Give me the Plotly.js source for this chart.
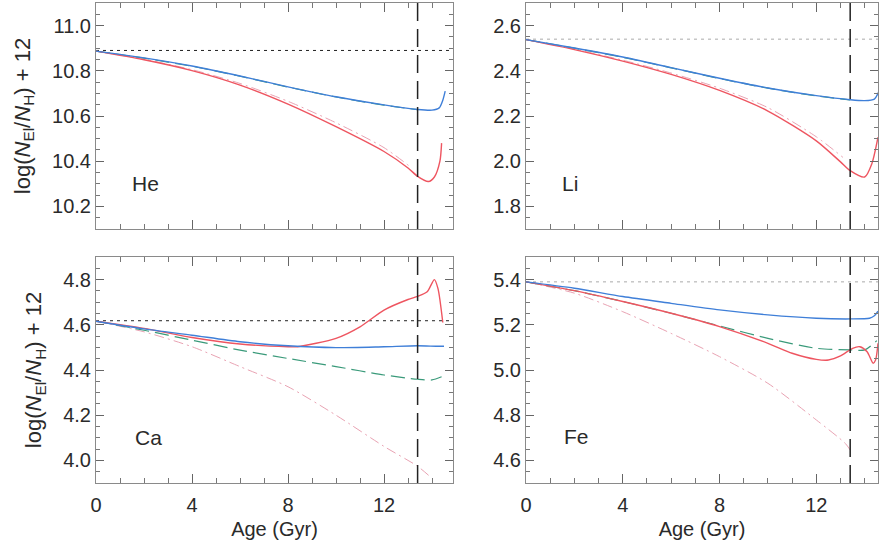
<!DOCTYPE html>
<html><head><meta charset="utf-8">
<script src="https://cdn.plot.ly/plotly-3.0.1.min.js"></script>
<style>html,body{margin:0;padding:0;background:#fff}#chart{width:879px;height:544px}</style>
</head><body><div id="chart"></div>
<script>
// ---- data (age in Gyr, log(N_El/N_H)+12) ----
const turnoffAge = 13.4;
const initialHe = 10.89, initialLi = 2.54, initialCa = 4.618, initialFe = 5.39;

// He
const heBlueX = [0, 2, 4, 6, 8, 10, 12, 13.4, 14.0, 14.3, 14.45, 14.55];
const heBlueY = [10.887, 10.857, 10.821, 10.777, 10.729, 10.685, 10.649, 10.629, 10.626, 10.636, 10.67, 10.71];
const heGreenX = [0, 2, 4, 6, 8, 10, 12, 13.4];
const heGreenY = [10.887, 10.856, 10.82, 10.776, 10.728, 10.684, 10.648, 10.628];
const heRedX = [0, 2, 4, 6, 8, 10, 12, 13.0, 13.4, 13.85, 14.1, 14.33, 14.4];
const heRedY = [10.887, 10.849, 10.801, 10.737, 10.653, 10.553, 10.443, 10.37, 10.333, 10.31, 10.33, 10.40, 10.48];
const hePinkX = [0, 2, 4, 6, 8, 10, 12, 13.1];
const hePinkY = [10.887, 10.851, 10.805, 10.744, 10.665, 10.57, 10.46, 10.375];

// Li
const liBlueX = [0, 2, 4, 6, 8, 10, 12, 13.4, 14.0, 14.4, 14.55, 14.7];
const liBlueY = [2.538, 2.501, 2.461, 2.414, 2.367, 2.324, 2.29, 2.272, 2.268, 2.275, 2.30, 2.35];
const liGreenX = [0, 2, 4, 6, 8, 10, 12, 13.4];
const liGreenY = [2.538, 2.5, 2.46, 2.413, 2.366, 2.323, 2.289, 2.271];
const liRedX = [0, 2, 4, 6, 8, 10, 12, 13.0, 13.4, 14.0, 14.3, 14.55];
const liRedY = [2.538, 2.494, 2.443, 2.384, 2.313, 2.222, 2.09, 1.997, 1.958, 1.93, 1.99, 2.106];
const liPinkX = [0, 2, 4, 6, 8, 10, 12, 13.1];
const liPinkY = [2.538, 2.496, 2.447, 2.39, 2.323, 2.237, 2.108, 2.017];

// Ca
const caBlueX = [0, 2, 4, 6, 8, 10, 12, 13.4, 14.2, 14.5];
const caBlueY = [4.616, 4.582, 4.554, 4.525, 4.507, 4.499, 4.503, 4.507, 4.505, 4.505];
const caGreenX = [0, 2, 4, 6, 8, 10, 12, 13.4, 14.0, 14.4];
const caGreenY = [4.616, 4.576, 4.532, 4.488, 4.451, 4.415, 4.378, 4.359, 4.356, 4.37];
const caRedX = [0, 2, 4, 6, 8, 8.4, 10, 11, 12, 13, 13.4, 13.8, 14.1, 14.25, 14.45];
const caRedY = [4.616, 4.584, 4.544, 4.515, 4.503, 4.503, 4.54, 4.591, 4.665, 4.712, 4.726, 4.746, 4.80, 4.76, 4.61];
const caPinkX = [0, 2, 4, 6, 8, 10, 12, 13.4, 13.9];
const caPinkY = [4.616, 4.569, 4.503, 4.415, 4.326, 4.20, 4.062, 3.974, 3.93];

// Fe
const feBlueX = [0, 2, 4, 6, 8, 10, 12, 13.4, 14.2, 14.4, 14.55];
const feBlueY = [5.39, 5.362, 5.325, 5.295, 5.266, 5.244, 5.229, 5.226, 5.229, 5.24, 5.26];
const feGreenX = [0, 2, 4, 6, 8, 10, 12, 13.4, 14.0, 14.5];
const feGreenY = [5.39, 5.351, 5.303, 5.251, 5.195, 5.14, 5.096, 5.089, 5.089, 5.13];
const feRedX = [0, 2, 4, 6, 8, 10, 11, 12, 12.5, 13, 13.5, 13.8, 14.1, 14.35, 14.45, 14.55];
const feRedY = [5.39, 5.351, 5.303, 5.251, 5.192, 5.118, 5.074, 5.047, 5.044, 5.062, 5.096, 5.103, 5.081, 5.03, 5.044, 5.118];
const fePinkX = [0, 2, 4, 6, 8, 10, 12, 13.2, 13.4];
const fePinkY = [5.39, 5.34, 5.258, 5.162, 5.059, 4.941, 4.779, 4.675, 4.646];

const elements = ["He", "Li", "Ca", "Fe"];
const xTickVals = [0, 4, 8, 12];
const xTickText = ["0", "4", "8", "12"];

// ---- styling ----
const BLUE = "#3f7fd8", GREEN = "#3a9a7a", RED = "#ee5560", PINK = "#e9a3b3";
const FONT = "Liberation Sans, Arial, sans-serif", TXT = "#2a2a2a";
function line(x, y, xa, ya, color, dash, width) {
  return {x: x, y: y, xaxis: xa, yaxis: ya, type: "scatter", mode: "lines",
          line: {color: color, dash: dash, width: width, shape: "spline", smoothing: 0.7},
          hoverinfo: "skip", showlegend: false};
}
const panels = [
  {xa: "x", ya: "y", b: [heBlueX, heBlueY], g: [heGreenX, heGreenY], r: [heRedX, heRedY], p: [hePinkX, hePinkY]},
  {xa: "x2", ya: "y2", b: [liBlueX, liBlueY], g: [liGreenX, liGreenY], r: [liRedX, liRedY], p: [liPinkX, liPinkY]},
  {xa: "x3", ya: "y3", b: [caBlueX, caBlueY], g: [caGreenX, caGreenY], r: [caRedX, caRedY], p: [caPinkX, caPinkY]},
  {xa: "x4", ya: "y4", b: [feBlueX, feBlueY], g: [feGreenX, feGreenY], r: [feRedX, feRedY], p: [fePinkX, fePinkY]}
];
const traces = [];
panels.forEach(function (P) {
  traces.push(line(P.p[0], P.p[1], P.xa, P.ya, PINK, "10px,4px,2px,4px", 1));
  traces.push(line(P.g[0], P.g[1], P.xa, P.ya, GREEN, "14px,6px", 1.2));
  traces.push(line(P.r[0], P.r[1], P.xa, P.ya, RED, "solid", 1.4));
  traces.push(line(P.b[0], P.b[1], P.xa, P.ya, BLUE, "solid", 1.4));
});

const W = 879, H = 544;
const colDom = [[96 / W, 453 / W], [526 / W, 878 / W]];
const rowDom = [[1 - 229 / H, 1 - 3 / H], [1 - 483 / H, 1 - 257 / H]];
const xRanges = [[0, 14.875], [0, 14.55]];
const yRanges = [[10.1, 11.1], [1.7, 2.7], [3.9, 4.9], [4.5, 5.5]];
const tickFont = {family: FONT, size: 20, color: TXT};

function xaxis(col, showLabels, anchor) {
  const ax = {domain: colDom[col], range: xRanges[col], anchor: anchor,
    showgrid: false, zeroline: false, showline: true, linecolor: "#8a8a8a", linewidth: 1, mirror: "ticks",
    ticks: "inside", ticklen: 9, tickcolor: "#666", tickwidth: 1,
    tickvals: xTickVals, ticktext: xTickText, showticklabels: showLabels, tickfont: tickFont,
    ticklabelstandoff: 4,
    minor: {dtick: 1, ticks: "inside", ticklen: 5, tickcolor: "#777"}};
  if (showLabels) ax.title = {text: "Age (Gyr)", font: {family: FONT, size: 20, color: TXT}, standoff: 6};
  return ax;
}
function yaxis(i, col, row, anchor) {
  const ax = {domain: rowDom[row], range: yRanges[i], anchor: anchor,
    showgrid: false, zeroline: false, showline: true, linecolor: "#8a8a8a", linewidth: 1, mirror: "ticks",
    ticks: "inside", ticklen: 8, tickcolor: "#666", tickwidth: 1,
    dtick: 0.2, tick0: 0, tickformat: ".1f", tickfont: tickFont,
    minor: {dtick: 0.05, tick0: 0, ticks: "inside", ticklen: 4, tickcolor: "#777"}};
  if (col === 0) ax.title = {text: "log(<i>N</i><sub>El</sub>/<i>N</i><sub>H</sub>) + 12",
      font: {family: FONT, size: 22, color: TXT}, standoff: 15};
  return ax;
}

const initials = [initialHe, initialLi, initialCa, initialFe];
const dotColors = ["#222", "#aaa", "#222", "#aaa"];
const shapes = [];
const annotations = [];
const labelPos = [[2.08, 10.30], [1.82, 1.90], [2.17, 4.10], [2.07, 4.706]];
for (let i = 0; i < 4; i++) {
  const xs = i === 0 ? "x" : "x" + (i + 1), ys = i === 0 ? "y" : "y" + (i + 1);
  shapes.push({type: "line", xref: xs + " domain", yref: ys, x0: 0, x1: 1, y0: initials[i], y1: initials[i],
    line: {color: dotColors[i], width: 1, dash: "3px,4px"}, layer: "below"});
  shapes.push({type: "line", xref: xs, yref: ys + " domain", x0: turnoffAge, x1: turnoffAge, y0: 0, y1: 1,
    line: {color: "#222", width: 1.5, dash: "18px,8px"}, layer: "above"});
  annotations.push({xref: xs, yref: ys, x: labelPos[i][0], y: labelPos[i][1], text: elements[i], showarrow: false,
    font: {family: FONT, size: 21, color: TXT}});
}

const layout = {
  width: W, height: H, margin: {l: 0, r: 0, t: 0, b: 0},
  paper_bgcolor: "#fff", plot_bgcolor: "#fff", showlegend: false,
  xaxis: xaxis(0, false, "y"), yaxis: yaxis(0, 0, 0, "x"),
  xaxis2: xaxis(1, false, "y2"), yaxis2: yaxis(1, 1, 0, "x2"),
  xaxis3: xaxis(0, true, "y3"), yaxis3: yaxis(2, 0, 1, "x3"),
  xaxis4: xaxis(1, true, "y4"), yaxis4: yaxis(3, 1, 1, "x4"),
  shapes: shapes, annotations: annotations
};
Plotly.newPlot("chart", traces, layout, {displayModeBar: false, staticPlot: true});
</script></body></html>
